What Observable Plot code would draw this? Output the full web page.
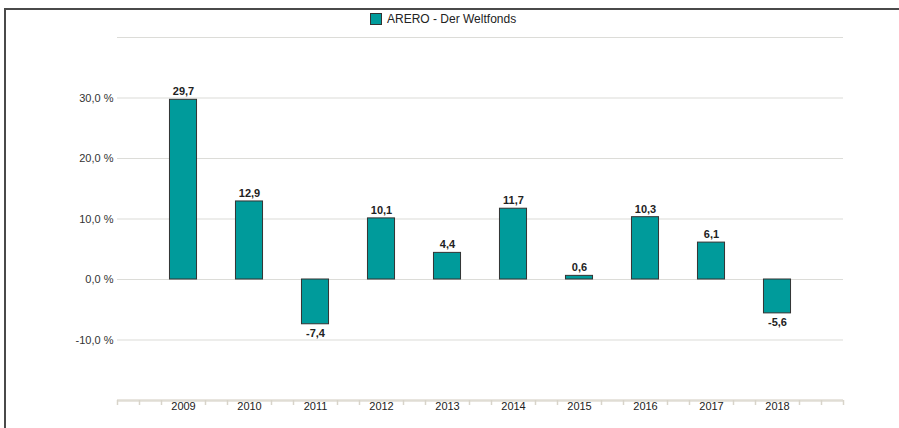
<!DOCTYPE html>
<html>
<head>
<meta charset="utf-8">
<script src="https://cdn.jsdelivr.net/npm/d3@7"></script>
<script src="https://cdn.jsdelivr.net/npm/@observablehq/plot@0.6"></script>
<style>
  html, body { margin: 0; padding: 0; background: #fff; }
  #wrap { position: relative; width: 899px; height: 428px; overflow: hidden; font-family: "Liberation Sans", Arial, sans-serif; }
  #chart { position: absolute; left: 0; top: 0; }
  .bt { position: absolute; left: 4px; top: 8px; width: 895px; height: 2px; background: #4a4a4a; }
  .bl { position: absolute; left: 4px; top: 8px; width: 2px; height: 420px; background: #4a4a4a; }
  #legend { position: absolute; left: 370px; top: 12px; display: flex; align-items: center; font-size: 12px; color: #222; }
  #legend .sw { width: 10px; height: 10px; background: #009b9b; border: 1px solid #333; margin-right: 5px; }
</style>
</head>
<body>
<div id="wrap">
  <div id="chart"></div>
  <div class="bt"></div>
  <div class="bl"></div>
  <div id="legend"><span class="sw"></span><span id="legendText"></span></div>
</div>
<script>
const seriesName = "ARERO - Der Weltfonds";
const years = [2009, 2010, 2011, 2012, 2013, 2014, 2015, 2016, 2017, 2018];
const values = [29.7, 12.9, -7.4, 10.1, 4.4, 11.7, 0.6, 10.3, 6.1, -5.6];
const yTickValues = [-10, 0, 10, 20, 30];
const gridValues = [-10, 0, 10, 20, 30, 40];

document.getElementById("legendText").textContent = seriesName;

const data = years.map((year, i) => ({year, value: values[i]}));
const fmt = v => v.toFixed(1).replace(".", ",");
const minorTicks = d3.range(0, 34).filter(k => k % 3 !== 0 || k === 0 || k === 33).map(k => 2008 + k / 3);

const chart = Plot.plot({
  width: 899,
  height: 428,
  marginLeft: 117,
  marginRight: 56,
  marginTop: 37,
  marginBottom: 28,
  x: {domain: [2008, 2019]},
  y: {domain: [-20, 40]},
  style: {fontFamily: "'Liberation Sans', Arial, sans-serif", fontSize: "11px", background: "transparent", color: "#333"},
  marks: [
    Plot.ruleY(gridValues, {stroke: "#dcdcd8", strokeWidth: 1.2}),
    Plot.axisY({ticks: yTickValues, tickFormat: d => fmt(d) + " %", tickSize: 0, tickPadding: 4, label: null, fontSize: 11}),
    Plot.rectY(data, {x1: d => d.year - 0.205, x2: d => d.year + 0.205, y: "value", fill: "#009b9b", stroke: "#333", strokeWidth: 1}),
    Plot.text(data.filter(d => d.value >= 0), {x: "year", y: "value", text: d => fmt(d.value), dy: -8, fontWeight: "bold", fontSize: 11, fill: "#222"}),
    Plot.text(data.filter(d => d.value < 0), {x: "year", y: "value", text: d => fmt(d.value), dy: 9, fontWeight: "bold", fontSize: 11, fill: "#222"}),
    Plot.ruleY([-20], {stroke: "#e0ddd4", strokeWidth: 2.5}),
    Plot.axisX({ticks: minorTicks, tickSize: 5, tickFormat: () => "", stroke: "#d8d4ca", strokeWidth: 1.5, label: null}),
    Plot.axisX({ticks: years, tickSize: 0, tickPadding: 2, tickFormat: d => String(d), label: null, fontSize: 11, fill: "#222"})
  ]
});
document.getElementById("chart").appendChild(chart);
</script>
</body>
</html>
